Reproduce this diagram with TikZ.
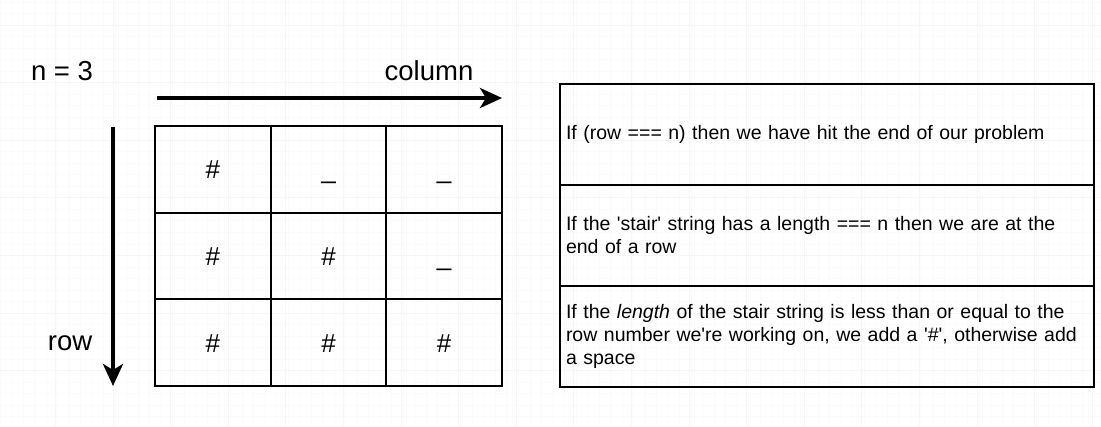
\documentclass[tikz,border=0pt]{standalone}
\usepackage{fontspec}
\setmainfont{Liberation Sans}
\usetikzlibrary{arrows.meta,positioning}

\begin{document}
\begin{tikzpicture}[x=1pt,y=-1pt,
    cell/.style={draw, line width=2pt, minimum width=115.7pt, minimum height=86.7pt,
      text height=21pt, text depth=2pt, font=\fontsize{26}{31}\selectfont},
    rule/.style={draw, line width=2pt, minimum width=534pt, minimum height=101pt,
      text width=522pt, inner xsep=6pt, align=left, anchor=north west,
      font=\fontsize{19.5}{23}\selectfont},
    label/.style={font=\fontsize{27.5}{33}\selectfont},
    axis/.style={line width=4pt, -{Stealth[length=22pt,width=20pt,inset=6pt]}}]
    \useasboundingbox (0,0) rectangle (1101,426);
    % faint page grid
    \foreach \gx in {0,11.52,...,1101} \draw[black!1.5, line width=0.8pt] (\gx,0) -- (\gx,426);
    \foreach \gy in {2,13.52,...,426} \draw[black!1.5, line width=0.8pt] (0,\gy) -- (1101,\gy);
    \foreach \gx in {55.4,113,...,1101} \draw[black!3.5, line width=0.8pt] (\gx,0) -- (\gx,426);
    \foreach \gy in {25,82.6,...,426} \draw[black!3.5, line width=0.8pt] (0,\gy) -- (1101,\gy);

    \node[label] (n) at (62,71) {n = 3};
    \node[label] (col) at (429,71) {column};
    \node[label] (row) at (70,343) {row};

    \coordinate (colstart) at (157,98);
    \coordinate (colend) at (502,98);
    \coordinate (rowstart) at (113,127);
    \coordinate (rowend) at (113,386);
    \draw[axis] (colstart) -- (colend);
    \draw[axis] (rowstart) -- (rowend);

    \node[cell] (c11) at (212.8,169.3) {\#};
    \node[cell] (c12) at (328.5,169.3) {\_};
    \node[cell] (c13) at (444.2,169.3) {\_};
    \node[cell] (c21) at (212.8,256.0) {\#};
    \node[cell] (c22) at (328.5,256.0) {\#};
    \node[cell] (c23) at (444.2,256.0) {\_};
    \node[cell] (c31) at (212.8,342.7) {\#};
    \node[cell] (c32) at (328.5,342.7) {\#};
    \node[cell] (c33) at (444.2,342.7) {\#};

    \node[rule] (r1) at (559,83) {If (row === n) then we have hit the end of our problem};
    \node[rule] (r2) at (559,184) {If the \textquotesingle stair\textquotesingle{} string has a length === n then we are at the\\ end of a row};
    \node[rule] (r3) at (559,285) {If the \textit{length} of the stair string is less than or equal to the\\ row number we\textquotesingle re working on, we add a \textquotesingle\#\textquotesingle, otherwise add\\ a space};
\end{tikzpicture}
\end{document}
